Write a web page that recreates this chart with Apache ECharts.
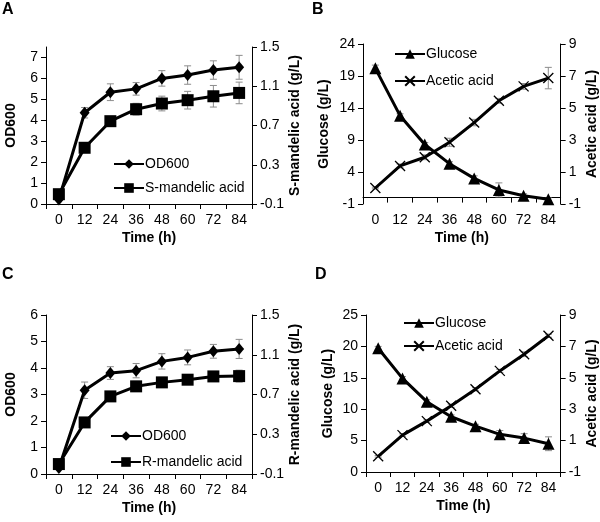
<!DOCTYPE html>
<html><head><meta charset="utf-8">
<script src="https://cdn.jsdelivr.net/npm/echarts@6/dist/echarts.min.js"></script>
<style>html,body{margin:0;padding:0;background:#fff}#c{width:600px;height:522px}</style>
</head><body><div id="c"></div>
<script>
// ---- data ----
const timeLabels = ['0','12','24','36','48','60','72','84'];

const aOD600 = [0.22, 4.36, 5.34, 5.50, 6.00, 6.16, 6.40, 6.53];
const aOD600Err = [0.05, 0.25, 0.40, 0.30, 0.37, 0.44, 0.44, 0.57];
const aSMandelic = [0.00, 0.473, 0.744, 0.866, 0.924, 0.958, 0.998, 1.032];
const aSMandelicErr = [0.01, 0.02, 0.03, 0.06, 0.075, 0.09, 0.11, 0.11];

const bGlucose = [20.2, 12.8, 8.3, 5.3, 3.0, 1.2, 0.3, -0.25];
const bGlucoseErr = [0.5, 0.3, 0.3, 0.3, 0.4, 1.1, 0.3, 0.2];
const bAcetic = [0.0, 1.38, 1.92, 2.86, 4.09, 5.45, 6.35, 6.87];
const bAceticErr = [0.05, 0.12, 0.15, 0.25, 0.2, 0.15, 0.18, 0.67];

const cOD600 = [0.23, 3.16, 3.81, 3.90, 4.25, 4.40, 4.63, 4.72];
const cOD600Err = [0.05, 0.31, 0.24, 0.27, 0.29, 0.28, 0.26, 0.36];
const cRMandelic = [0.00, 0.419, 0.681, 0.782, 0.822, 0.849, 0.882, 0.885];
const cRMandelicErr = [0.01, 0.02, 0.03, 0.05, 0.05, 0.03, 0.04, 0.06];

const dGlucose = [19.7, 14.9, 11.2, 8.8, 7.3, 6.0, 5.4, 4.5];
const dGlucoseErr = [0.3, 0.3, 0.3, 0.3, 0.3, 0.6, 0.7, 1.1];
const dAcetic = [0.0, 1.35, 2.24, 3.22, 4.27, 5.44, 6.5, 7.68];
const dAceticErr = [0.05, 0.08, 0.08, 0.1, 0.1, 0.1, 0.15, 0.1];

// ---- styling helpers ----
const FONT = 'Liberation Sans, Arial, sans-serif';
const FS = 14;
const grids = [
  {left: 46, top: 47, width: 206, height: 157},
  {left: 363, top: 44, width: 198, height: 160},
  {left: 46, top: 315, width: 206, height: 159},
  {left: 366, top: 315, width: 195, height: 157}
];
const fmt = v => String(Math.round(v * 10) / 10);

function xAx(i) {
  return {
    type: 'category', gridIndex: i, data: timeLabels, boundaryGap: true,
    name: 'Time (h)', nameLocation: 'middle', nameGap: 27,
    nameTextStyle: {fontFamily: FONT, fontSize: FS, fontWeight: 'bold', color: '#000'},
    axisLine: {lineStyle: {color: '#000', width: 1}},
    axisTick: {show: true, length: 5, alignWithLabel: false, lineStyle: {color: '#000'}},
    axisLabel: {fontFamily: FONT, fontSize: FS, color: '#000', margin: 9},
    splitLine: {show: false}
  };
}
function yAx(i, pos, name, min, max, interval, gap, hideMax) {
  return {
    type: 'value', gridIndex: i, position: pos, min: min, max: max, interval: interval,
    name: name, nameLocation: 'middle', nameRotate: 90, nameGap: gap,
    nameTextStyle: {fontFamily: FONT, fontSize: FS, fontWeight: 'bold', color: '#000'},
    axisLine: {show: true, lineStyle: {color: '#000', width: 1}},
    axisTick: {show: true, length: 5, lineStyle: {color: '#000'}},
    axisLabel: {fontFamily: FONT, fontSize: FS, color: '#000', margin: 8, formatter: fmt, showMaxLabel: !hideMax},
    splitLine: {show: false}
  };
}

const xPath = 'path://M0,0L10,10M10,0L0,10';

function lineSeries(name, data, xi, yi, symbol, size) {
  const isX = symbol === xPath;
  return {
    type: 'line', name: name, data: data, xAxisIndex: xi, yAxisIndex: yi,
    symbol: symbol, symbolSize: size, showSymbol: true, z: 3,
    lineStyle: {color: '#000', width: 3},
    itemStyle: isX ? {color: '#000', borderColor: '#000', borderWidth: 1.3} : {color: '#000', borderWidth: 0},
    emphasis: {disabled: true}, animation: false
  };
}
function errSeries(vals, errs, xi, yi) {
  return {
    type: 'custom', xAxisIndex: xi, yAxisIndex: yi, z: 2, silent: true, animation: false,
    data: vals.map((v, k) => [k, v, errs[k]]),
    renderItem: function (params, api) {
      const x = api.value(0), y = api.value(1), e = api.value(2);
      const t = api.coord([x, y + e]);
      const b = api.coord([x, y - e]);
      const st = {stroke: '#8c8c8c', lineWidth: 1};
      const w = 3.5;
      return {type: 'group', children: [
        {type: 'line', shape: {x1: t[0], y1: t[1], x2: b[0], y2: b[1]}, style: st},
        {type: 'line', shape: {x1: t[0] - w, y1: t[1], x2: t[0] + w, y2: t[1]}, style: st},
        {type: 'line', shape: {x1: b[0] - w, y1: b[1], x2: b[0] + w, y2: b[1]}, style: st}
      ]};
    }
  };
}
function legend(names, left, top, gap) {
  return {
    data: names, orient: 'vertical', left: left, top: top, itemGap: gap, padding: 0,
    itemWidth: 30, itemHeight: 12, selectedMode: false,
    textStyle: {fontFamily: FONT, fontSize: FS, color: '#000', padding: [0, 0, 0, -4]}
  };
}
function panelTitle(t, left, top) {
  return {text: t, left: left, top: top, padding: 0,
    textStyle: {fontFamily: FONT, fontSize: 16, fontWeight: 'bold', color: '#000'}};
}

const option = {
  backgroundColor: '#fff',
  animation: false,
  title: [panelTitle('A', 2, 2), panelTitle('B', 312, 2), panelTitle('C', 2, 267), panelTitle('D', 315, 267)],
  grid: grids,
  xAxis: [xAx(0), xAx(1), xAx(2), xAx(3)],
  yAxis: [
    yAx(0, 'left', 'OD600', 0, 7.5, 1, 28, true),
    yAx(0, 'right', 'S-mandelic acid (g/L)', -0.1, 1.5, 0.4, 34, false),
    yAx(1, 'left', 'Glucose (g/L)', -1, 24, 5, 32, false),
    yAx(1, 'right', 'Acetic acid (g/L)', -1, 9, 2, 22, false),
    yAx(2, 'left', 'OD600', 0, 6, 1, 28, false),
    yAx(2, 'right', 'R-mandelic acid (g/L)', -0.1, 1.5, 0.4, 34, false),
    yAx(3, 'left', 'Glucose (g/L)', 0, 25, 5, 31, false),
    yAx(3, 'right', 'Acetic acid (g/L)', -1, 9, 2, 22, false)
  ],
  legend: [
    legend(['OD600', 'S-mandelic acid'], 113, 157, 10),
    legend(['Glucose', 'Acetic acid'], 394, 47, 13),
    legend(['OD600', 'R-mandelic acid'], 110, 429, 12),
    legend(['Glucose', 'Acetic acid'], 403, 316, 9)
  ],
  series: [
    errSeries(aOD600, aOD600Err, 0, 0),
    errSeries(aSMandelic, aSMandelicErr, 0, 1),
    lineSeries('OD600', aOD600, 0, 0, 'diamond', [10, 12]),
    lineSeries('S-mandelic acid', aSMandelic, 0, 1, 'rect', 12),

    errSeries(bGlucose, bGlucoseErr, 1, 2),
    errSeries(bAcetic, bAceticErr, 1, 3),
    lineSeries('Glucose', bGlucose, 1, 2, 'triangle', 12),
    lineSeries('Acetic acid', bAcetic, 1, 3, xPath, 10),

    errSeries(cOD600, cOD600Err, 2, 4),
    errSeries(cRMandelic, cRMandelicErr, 2, 5),
    lineSeries('OD600', cOD600, 2, 4, 'diamond', [10, 12]),
    lineSeries('R-mandelic acid', cRMandelic, 2, 5, 'rect', 12),

    errSeries(dGlucose, dGlucoseErr, 3, 6),
    errSeries(dAcetic, dAceticErr, 3, 7),
    lineSeries('Glucose', dGlucose, 3, 6, 'triangle', 12),
    lineSeries('Acetic acid', dAcetic, 3, 7, xPath, 10)
  ]
};
const chart = echarts.init(document.getElementById('c'), null, {renderer: 'canvas'});
chart.setOption(option);
</script>
</body></html>
